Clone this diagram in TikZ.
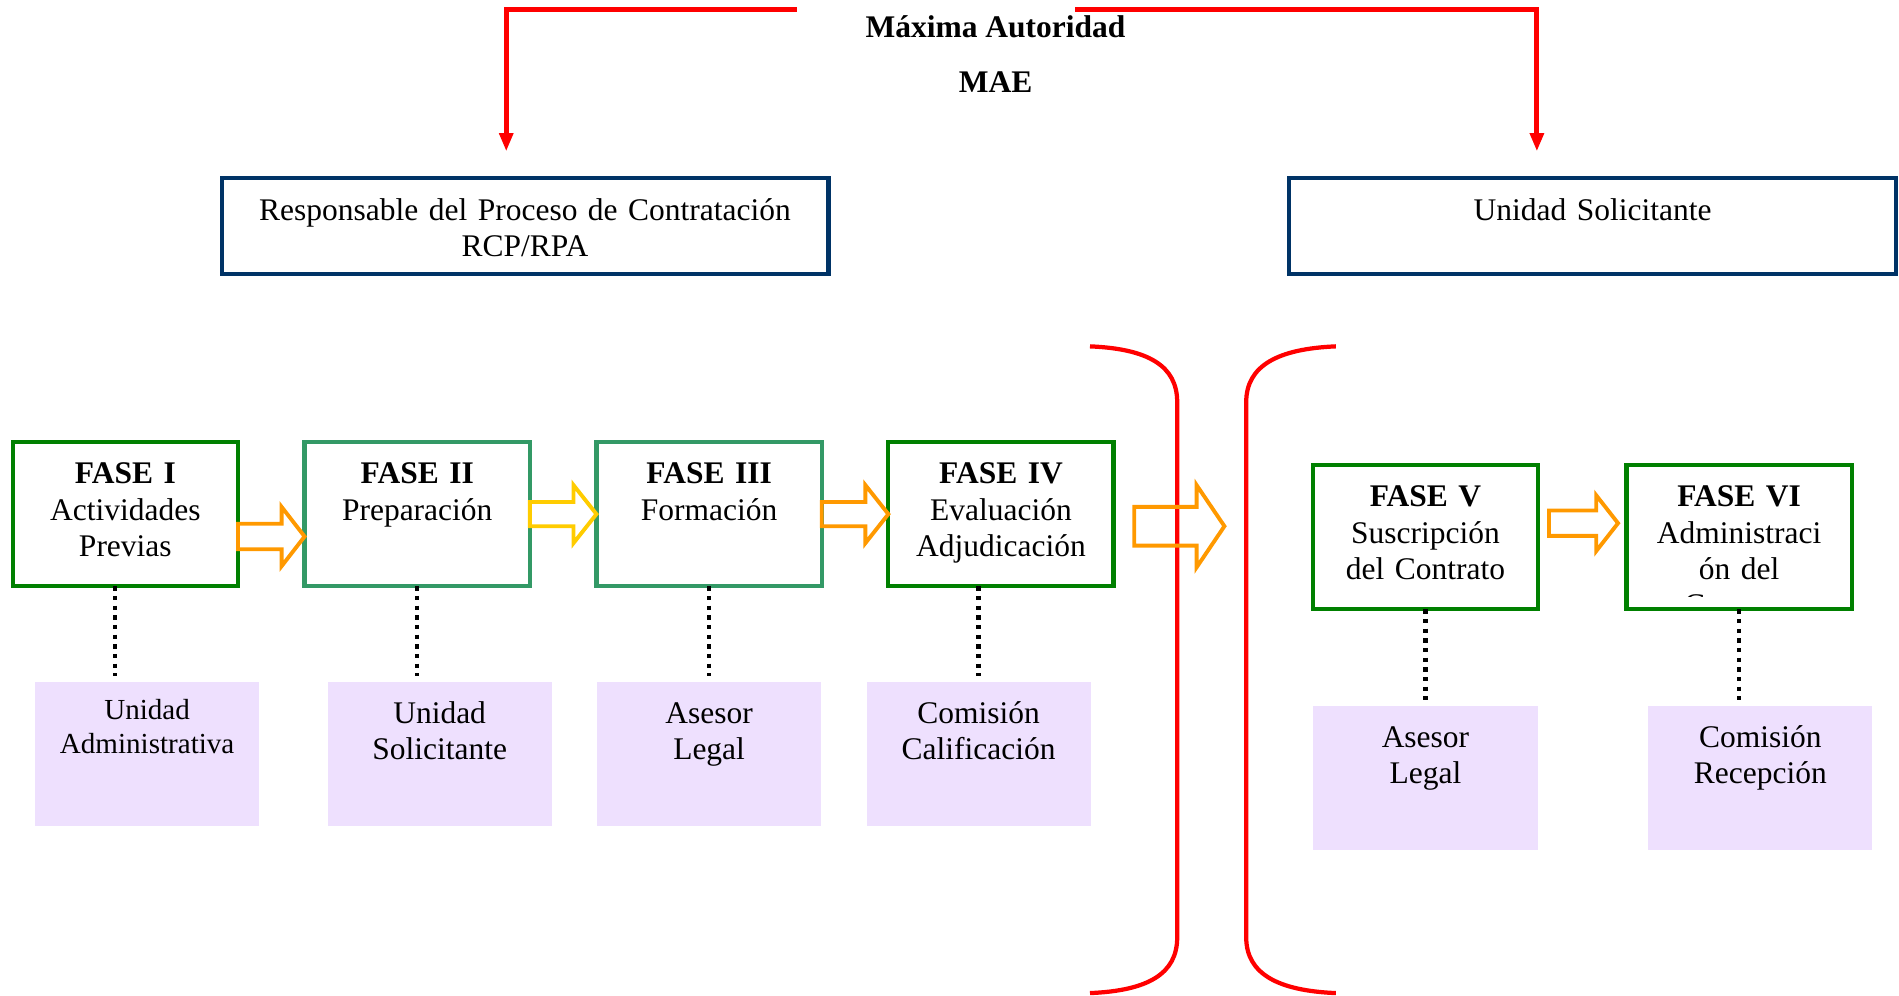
\documentclass[tikz,border=0pt]{standalone}
\usepackage{fontspec}
\setmainfont{Liberation Serif}
\usetikzlibrary{positioning,arrows.meta,calc}
\definecolor{fgreen}{RGB}{0,128,0}
\definecolor{sgreen}{RGB}{51,153,102}
\definecolor{navy}{RGB}{0,51,102}
\definecolor{aorange}{RGB}{255,153,0}
\definecolor{ayellow}{RGB}{255,204,0}
\definecolor{lilac}{RGB}{238,224,254}

% hollow block arrow: colour, from, to, shaft half, head half, head length
\newcommand{\blockarr}[6]{%
  \draw[draw=#1, line width=1.6pt] let \p1=(#2), \p2=(#3) in
    (\x1,\y1+#4) -- (\x2-#6,\y1+#4) -- (\x2-#6,\y1+#5) -- (\x2,\y1)
    -- (\x2-#6,\y1-#5) -- (\x2-#6,\y1-#4) -- (\x1,\y1-#4) -- cycle;}

\begin{document}
\begin{tikzpicture}[x=0.5pt, y=-0.5pt,
    every node/.style={font=\fontsize{13}{15}\selectfont},
    fasebox/.style={draw=#1, line width=1.75pt, inner sep=0pt, outer sep=0pt,
      text width=93pt, align=center, text height=17.3pt, text depth=42.2pt},
    rolebox/.style={fill=lilac, inner sep=0pt, outer sep=0pt,
      text width=92.5pt, align=center, text height=17pt, text depth=42.5pt},
    headbox/.style={draw=navy, line width=1.75pt, inner sep=0pt, outer sep=0pt,
      text width=250.5pt, align=center, text height=17.5pt, text depth=22pt},
    dotline/.style={line width=1.8pt, dash pattern=on 1.8pt off 2.2pt, shorten >=2.5pt},
    redarrow/.style={draw=red, line width=2pt, -{Triangle[length=7.5pt,width=5.5pt]}},
    bracket/.style={draw=red, line width=1.75pt}]
    \useasboundingbox (0,0) rectangle (1568,822);

    % top authority
    \node[font=\fontsize{13}{15}\selectfont\bfseries, anchor=base] (mae) at (822,30.6) {Máxima Autoridad};
    \node[font=\fontsize{13}{15}\selectfont\bfseries, anchor=base] (maeabbr) at (822,76.6) {MAE};
    \node[headbox] (rcp) at (433.5,186.5) {Responsable del Proceso de Contratación\\RCP/RPA};
    \node[headbox] (us) at (1315,186.5) {Unidad Solicitante};
    \coordinate (topL) at (658,8);
    \coordinate (topR) at (888,8);
    \draw[redarrow] (topL) -| ([xshift=-7.75pt,yshift=11pt]rcp.north);
    \draw[redarrow] (topR) -| ([xshift=-23pt,yshift=11pt]us.north);

    % phases
    \node[fasebox=fgreen] (f1) at (103.5,424.5) {\textbf{FASE I}\\Actividades\\Previas};
    \node[fasebox=sgreen, right=27.5pt of f1] (f2) {\textbf{FASE II}\\Preparación};
    \node[fasebox=sgreen, right=27.5pt of f2] (f3) {\textbf{FASE III}\\Formación};
    \node[fasebox=fgreen, right=27.5pt of f3] (f4) {\textbf{FASE IV}\\Evaluación\\Adjudicación};
    \node[fasebox=fgreen] (f5) at (1177,443.5) {\textbf{FASE V}\\Suscripción\\del Contrato};
    \node[fasebox=fgreen, right=36.5pt of f5] (f6) {};
    \begin{scope}
      \clip (f6.north west) rectangle ([yshift=5.3pt]f6.south east);
      \node[fasebox=fgreen, draw=none] (f6txt) at (f6.center) {\textbf{FASE VI}\\Administraci\\ón del\\Contrato};
    \end{scope}

    % roles
    \node[rolebox, font=\fontsize{12}{14}\selectfont, text height=15.5pt, text depth=44pt,
      below=39.5pt of f1, xshift=9pt] (p1) {Unidad\\Administrativa};
    \node[rolebox, below=39.5pt of f2, xshift=9.25pt] (p2) {Unidad\\Solicitante};
    \node[rolebox, below=39.5pt of f3] (p3) {Asesor\\Legal};
    \node[rolebox, below=39.5pt of f4, xshift=-9.25pt] (p4) {Comisión\\Calificación};
    \node[rolebox, below=40pt of f5] (p5) {Asesor\\Legal};
    \node[rolebox, below=40pt of f6, xshift=8.75pt] (p6) {Comisión\\Recepción};

    \draw[dotline] ([xshift=-4.25pt]f1.south) -- ([xshift=-4.25pt]f1.south |- p1.north);
    \draw[dotline] (f2.south) -- (f2.south |- p2.north);
    \draw[dotline] (f3.south) -- (p3.north);
    \draw[dotline] (f4.south -| p4.north) -- (p4.north);
    \draw[dotline] (f5.south) -- (p5.north);
    \draw[dotline] (f6.south) -- (f6.south |- p6.north);

    % brackets
    \draw[bracket] (900,286) .. controls (948,288) and (972,302) .. (972,332)
      -- (972,774) .. controls (972,804) and (948,818) .. (900,820);
    \draw[bracket] (1103,286) .. controls (1055,288) and (1029,302) .. (1029,332)
      -- (1029,774) .. controls (1029,804) and (1055,818) .. (1103,820);

    % block arrows
    \coordinate (gaptip) at (1011,434.5);
    \blockarr{aorange}{[yshift=-9.25pt]f1.east}{f2.west}{5.25pt}{12.25pt}{9.5pt}
    \blockarr{ayellow}{f2.east}{f3.west}{5pt}{12pt}{9.5pt}
    \blockarr{aorange}{f3.east}{f4.west}{5pt}{12pt}{9.5pt}
    \blockarr{aorange}{[xshift=8.5pt,yshift=-5pt]f4.east}{gaptip}{8pt}{17pt}{11.5pt}
    \blockarr{aorange}{[xshift=4.5pt,yshift=5.75pt]f5.east}{[xshift=-3.5pt]f6.west}{5.25pt}{11.5pt}{9pt}
\end{tikzpicture}
\end{document}
